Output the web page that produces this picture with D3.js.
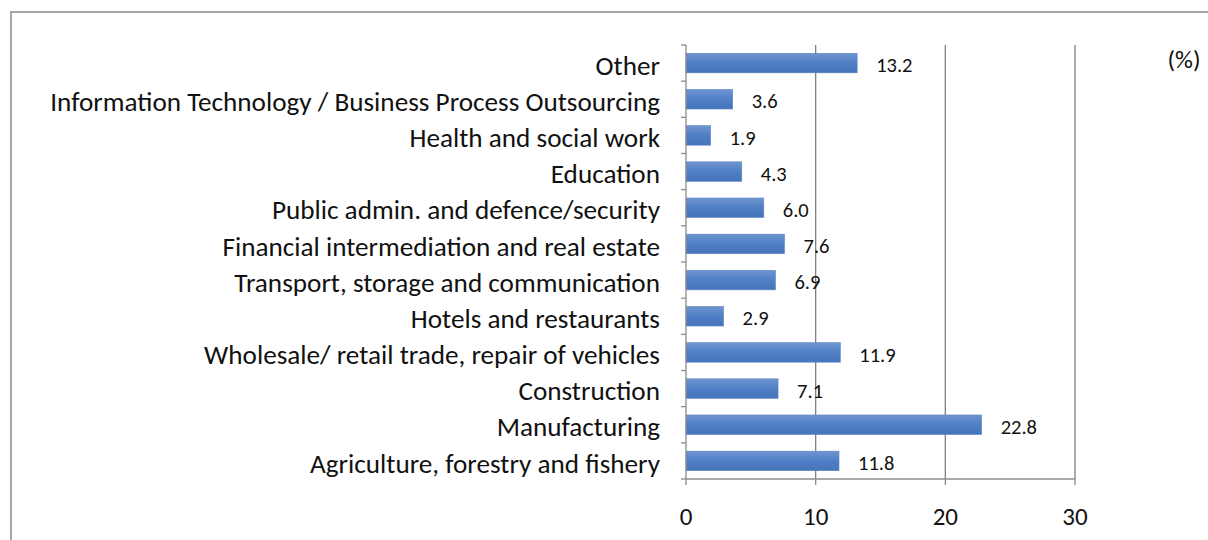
<!DOCTYPE html>
<html>
<head>
<meta charset="utf-8">
<script src="https://cdn.jsdelivr.net/npm/d3@7"></script>
<style>
  html, body { margin: 0; padding: 0; background: #fff; }
  svg { display: block; }
</style>
</head>
<body>
<svg id="chart" width="1208" height="540"></svg>
<script>
// Employment share by sector, listed top to bottom
const categories = [
  "Other",
  "Information Technology / Business Process Outsourcing",
  "Health and social work",
  "Education",
  "Public admin. and defence/security",
  "Financial intermediation and real estate",
  "Transport, storage and communication",
  "Hotels and restaurants",
  "Wholesale/ retail trade, repair of vehicles",
  "Construction",
  "Manufacturing",
  "Agriculture, forestry and fishery"
];
const values = [13.2, 3.6, 1.9, 4.3, 6.0, 7.6, 6.9, 2.9, 11.9, 7.1, 22.8, 11.8];
const xTicks = [0, 10, 20, 30];
const unitLabel = "(%)";

(function draw() {
  const svg = d3.select("#chart");
  const font = "Carlito, Lato, 'Open Sans', sans-serif";

  // outer frame
  svg.append("path")
    .attr("d", "M11,540 V12 H1208")
    .attr("fill", "none")
    .attr("stroke", "#a6a6a6")
    .attr("stroke-width", 2);

  const plotLeft = 686, plotRight = 1075, plotTop = 45, plotBottom = 479;

  const x = d3.scaleLinear().domain([0, 30]).range([plotLeft, plotRight]);
  const y = d3.scaleBand().domain(categories).range([plotTop, plotBottom])
    .paddingInner(0.46).paddingOuter(0.23);

  // bar gradient
  const defs = svg.append("defs");
  const grad = defs.append("linearGradient").attr("id", "barGrad")
    .attr("x1", 0).attr("y1", 0).attr("x2", 0).attr("y2", 1);
  grad.append("stop").attr("offset", "0%").attr("stop-color", "#6f95cf");
  grad.append("stop").attr("offset", "50%").attr("stop-color", "#4f7fc6");
  grad.append("stop").attr("offset", "100%").attr("stop-color", "#4674bb");

  // vertical gridlines
  svg.append("g").selectAll("line").data(xTicks.filter(d => d > 0)).join("line")
    .attr("x1", d => x(d)).attr("x2", d => x(d))
    .attr("y1", plotTop).attr("y2", plotBottom)
    .attr("stroke", "#7f7f7f").attr("stroke-width", 1.3);

  // bars
  svg.append("g").selectAll("rect").data(values).join("rect")
    .attr("x", x(0))
    .attr("y", (d, i) => y(categories[i]))
    .attr("width", d => x(d) - x(0))
    .attr("height", y.bandwidth())
    .attr("fill", "url(#barGrad)")
    .attr("stroke", "#5b86c4").attr("stroke-width", 0.6);

  // value labels
  svg.append("g").selectAll("text").data(values).join("text")
    .attr("x", d => x(d) + 19)
    .attr("y", (d, i) => y(categories[i]) + y.bandwidth() / 2)
    .attr("dy", "0.45em")
    .attr("font-family", font).attr("font-size", 20.5).attr("fill", "#111")
    .text(d => d.toFixed(1));

  // category axis with ticks at band boundaries
  const yAxisG = svg.append("g");
  yAxisG.append("line")
    .attr("x1", plotLeft).attr("x2", plotLeft).attr("y1", plotTop).attr("y2", plotBottom)
    .attr("stroke", "#8c8c8c").attr("stroke-width", 1.3);
  const bounds = d3.range(categories.length + 1)
    .map(i => plotTop + i * (plotBottom - plotTop) / categories.length);
  yAxisG.selectAll("line.tk").data(bounds).join("line").attr("class", "tk")
    .attr("x1", plotLeft - 5).attr("x2", plotLeft).attr("y1", d => d).attr("y2", d => d)
    .attr("stroke", "#8c8c8c").attr("stroke-width", 1.3);
  yAxisG.selectAll("text").data(categories).join("text")
    .attr("x", 660)
    .attr("y", d => y(d) + y.bandwidth() / 2)
    .attr("dy", "0.43em")
    .attr("text-anchor", "end")
    .attr("font-family", font).attr("font-size", 27.2).attr("fill", "#111")
    .text(d => d);

  // value axis
  const xAxisG = svg.append("g");
  xAxisG.append("line")
    .attr("x1", plotLeft).attr("x2", plotRight).attr("y1", plotBottom).attr("y2", plotBottom)
    .attr("stroke", "#8c8c8c").attr("stroke-width", 1.3);
  xAxisG.selectAll("line.tk").data(xTicks).join("line").attr("class", "tk")
    .attr("x1", d => x(d)).attr("x2", d => x(d)).attr("y1", plotBottom).attr("y2", plotBottom + 6)
    .attr("stroke", "#8c8c8c").attr("stroke-width", 1.3);
  xAxisG.selectAll("text").data(xTicks).join("text")
    .attr("x", d => x(d))
    .attr("y", 525)
    .attr("text-anchor", "middle")
    .attr("font-family", font).attr("font-size", 25).attr("fill", "#111")
    .text(d => d);

  // unit label
  svg.append("text")
    .attr("x", 1184).attr("y", 68)
    .attr("text-anchor", "middle")
    .attr("font-family", font).attr("font-size", 25).attr("fill", "#111")
    .text(unitLabel);
})();
</script>
</body>
</html>
